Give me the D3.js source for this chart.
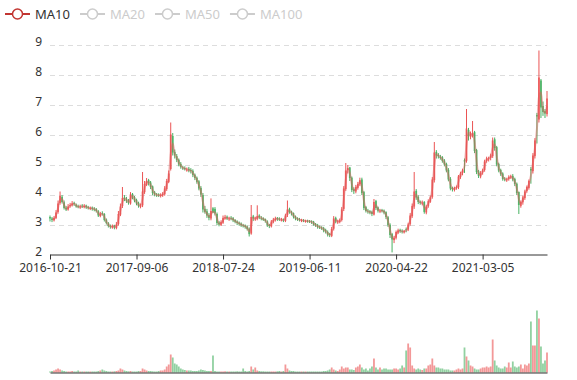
<!DOCTYPE html>
<html><head><meta charset="utf-8">
<script src="https://cdn.jsdelivr.net/npm/d3@7/dist/d3.min.js"></script>
<style>
body{margin:0;background:#fff}
svg{display:block;font-family:"Noto Sans",sans-serif}
</style>
</head><body>
<svg id="c" width="577" height="380"></svg>
<script>
const legendNames = ["MA10", "MA20", "MA50", "MA100"];
const legendActive = [true, false, false, false];
const tickLabels = ["2016-10-21", "2017-09-06", "2018-07-24", "2019-06-11", "2020-04-22", "2021-03-05"];
const tickInterval = 43;
const priceTicks = [2, 3, 4, 5, 6, 7, 8, 9];

const opens = [
3.25,3.20,3.14,3.22,3.42,3.72,3.92,3.74,3.56,3.50,
3.62,3.64,3.72,3.66,3.61,3.57,3.63,3.58,3.63,3.58,
3.53,3.56,3.53,3.51,3.44,3.28,3.38,3.35,3.16,3.04,
2.96,2.90,2.96,2.88,3.02,3.33,3.62,3.90,3.86,3.80,
3.70,4.02,3.91,3.82,3.72,3.60,3.64,4.08,4.32,4.48,
4.40,4.27,4.07,3.99,4.00,3.95,3.97,4.01,4.18,4.42,
4.85,5.95,5.42,5.28,5.16,5.02,4.90,4.88,4.82,4.86,
4.82,4.79,4.66,4.56,4.44,4.22,3.98,3.52,3.44,3.31,
3.20,3.54,3.52,3.35,3.07,2.99,3.06,3.20,3.26,3.18,
3.22,3.21,3.15,3.10,3.06,3.03,2.97,2.97,2.93,2.86,
2.70,3.27,3.18,3.19,3.30,3.22,3.21,3.18,3.10,2.99,
2.94,3.09,3.15,3.22,3.19,3.15,3.17,3.12,3.32,3.52,
3.43,3.38,3.27,3.21,3.18,3.13,3.15,3.10,3.13,3.12,
3.11,3.09,3.02,2.98,2.93,2.90,2.88,2.82,2.75,2.68,
2.62,2.86,3.22,3.08,3.08,3.15,3.52,4.18,4.82,4.90,
4.56,4.18,4.10,4.22,4.34,4.50,4.08,3.58,3.46,3.44,
3.42,3.33,3.78,3.57,3.44,3.48,3.46,3.41,3.24,2.99,
2.68,2.48,2.56,2.73,2.82,2.79,2.74,2.84,2.83,3.02,
3.28,3.60,4.12,3.92,3.76,3.70,3.75,3.40,3.62,3.76,
3.92,4.48,5.42,5.32,5.26,5.24,5.13,5.02,4.82,4.52,
4.22,4.16,4.22,4.24,4.58,4.72,5.14,5.12,6.15,5.92,
5.98,6.08,5.48,4.77,4.60,4.74,4.82,5.12,5.18,5.22,
5.28,5.84,5.58,5.02,4.82,4.70,4.53,4.48,4.52,4.57,
4.62,4.52,4.36,4.08,3.62,3.74,3.88,4.12,4.22,4.85,
4.78,5.28,6.65,6.50,7.80,6.95,6.78,6.68];

const closes = [
3.20,3.15,3.22,3.40,3.70,3.95,3.75,3.55,3.50,3.60,
3.65,3.70,3.68,3.60,3.58,3.60,3.60,3.62,3.57,3.55,
3.55,3.52,3.50,3.45,3.30,3.36,3.36,3.15,3.05,2.95,
2.92,2.95,2.90,3.00,3.35,3.60,3.88,3.85,3.78,3.72,
4.00,3.90,3.80,3.70,3.62,3.62,4.10,4.35,4.45,4.38,
4.25,4.05,4.00,3.98,3.97,3.98,4.02,4.20,4.45,4.70,
6.00,5.40,5.30,5.15,5.00,4.92,4.87,4.85,4.83,4.80,
4.78,4.65,4.55,4.42,4.20,4.00,3.50,3.42,3.30,3.22,
3.45,3.40,3.37,3.05,3.00,3.08,3.22,3.24,3.20,3.20,
3.20,3.14,3.09,3.05,3.02,2.98,2.96,2.92,2.85,2.68,
3.25,3.20,3.20,3.28,3.24,3.20,3.16,3.12,2.98,2.95,
3.10,3.16,3.20,3.18,3.17,3.16,3.14,3.30,3.50,3.42,
3.37,3.26,3.20,3.17,3.15,3.14,3.12,3.12,3.11,3.10,
3.08,3.00,2.97,2.92,2.90,2.87,2.80,2.76,2.66,2.65,
2.85,3.20,3.10,3.10,3.14,3.50,4.20,4.80,4.88,4.55,
4.15,4.12,4.25,4.35,4.48,4.05,3.55,3.45,3.43,3.40,
3.35,3.75,3.55,3.46,3.46,3.45,3.40,3.25,2.98,2.65,
2.50,2.55,2.75,2.80,2.78,2.76,2.78,2.82,3.00,3.30,
3.62,4.10,3.90,3.75,3.72,3.73,3.42,3.60,3.78,3.90,
4.50,5.40,5.30,5.28,5.22,5.12,5.00,4.80,4.50,4.20,
4.18,4.20,4.25,4.60,4.70,4.80,5.10,6.20,5.95,6.00,
6.05,5.45,4.75,4.62,4.72,4.80,5.10,5.20,5.20,5.30,
5.80,5.55,5.00,4.80,4.68,4.52,4.50,4.50,4.58,4.60,
4.50,4.35,4.05,3.65,3.75,3.90,4.10,4.25,4.45,4.80,
5.30,5.80,6.60,7.90,6.90,6.75,6.70,7.20];

const highs = [
3.30,3.25,3.28,3.48,3.80,4.10,3.98,3.80,3.62,3.68,
3.72,3.78,3.76,3.70,3.66,3.66,3.68,3.68,3.66,3.62,
3.60,3.60,3.58,3.55,3.48,3.42,3.44,3.38,3.20,3.08,
3.00,3.00,2.99,3.08,3.45,3.70,4.25,3.98,3.92,3.85,
4.08,4.05,3.95,3.86,3.76,3.70,4.75,4.45,4.55,4.52,
4.45,4.30,4.12,4.05,4.04,4.04,4.08,4.28,4.52,4.80,
6.40,6.05,5.50,5.35,5.20,5.08,4.96,4.94,4.90,4.92,
4.88,4.84,4.70,4.60,4.48,4.28,4.05,3.62,3.52,3.38,
3.87,3.58,3.58,3.40,3.12,3.14,3.30,3.32,3.30,3.26,
3.28,3.25,3.18,3.14,3.10,3.07,3.02,3.00,2.97,2.90,
3.65,3.32,3.26,3.64,3.34,3.28,3.24,3.20,3.14,3.02,
3.15,3.22,3.26,3.25,3.24,3.22,3.20,3.36,3.80,3.56,
3.46,3.40,3.30,3.24,3.22,3.19,3.18,3.16,3.16,3.15,
3.14,3.12,3.05,3.02,2.97,2.94,2.92,2.86,2.80,2.72,
2.92,3.28,3.26,3.16,3.20,3.58,4.28,5.05,4.98,4.92,
4.60,4.24,4.32,4.42,4.56,4.56,4.12,3.62,3.52,3.48,
3.46,3.85,3.82,3.60,3.52,3.52,3.50,3.44,3.28,3.04,
2.72,2.62,2.80,2.86,2.86,2.84,2.82,2.90,3.06,3.38,
3.70,4.75,4.18,3.98,3.80,3.80,3.78,3.66,3.84,3.96,
4.58,5.75,5.48,5.38,5.32,5.28,5.18,5.06,4.88,4.58,
4.26,4.26,4.30,4.65,4.76,4.86,5.20,6.85,6.22,6.10,
6.45,6.12,5.52,4.82,4.78,4.86,5.16,5.26,5.26,5.36,
5.90,5.90,5.62,5.06,4.86,4.74,4.58,4.56,4.64,4.66,
4.68,4.56,4.40,4.10,3.80,3.96,4.16,4.30,4.50,4.92,
5.38,5.88,6.72,8.80,7.85,7.10,6.85,7.45];

const lows = [
3.10,3.08,3.10,3.18,3.36,3.66,3.70,3.50,3.45,3.46,
3.56,3.60,3.62,3.56,3.54,3.52,3.55,3.54,3.52,3.50,
3.48,3.46,3.44,3.40,3.25,3.24,3.30,3.10,3.00,2.90,
2.86,2.86,2.84,2.84,2.96,3.28,3.55,3.78,3.72,3.66,
3.66,3.84,3.74,3.64,3.56,3.54,3.58,4.02,4.28,4.30,
4.18,3.98,3.94,3.92,3.92,3.90,3.92,3.96,4.12,4.38,
4.80,5.30,5.20,5.08,4.94,4.86,4.82,4.80,4.76,4.74,
4.70,4.58,4.48,4.36,4.14,3.92,3.40,3.36,3.22,3.14,
3.14,3.38,3.30,2.98,2.94,2.95,3.02,3.16,3.15,3.12,
3.14,3.08,3.04,2.98,2.96,2.92,2.90,2.86,2.80,2.60,
2.66,3.12,3.12,3.14,3.18,3.14,3.12,3.06,2.92,2.88,
2.90,3.04,3.10,3.12,3.12,3.10,3.08,3.08,3.25,3.36,
3.30,3.20,3.14,3.12,3.10,3.08,3.08,3.06,3.06,3.05,
3.02,2.96,2.92,2.86,2.85,2.82,2.74,2.70,2.60,2.58,
2.58,2.80,3.04,3.02,3.04,3.10,3.45,4.12,4.70,4.45,
4.08,4.02,4.04,4.16,4.28,3.98,3.48,3.40,3.36,3.34,
3.28,3.30,3.48,3.40,3.38,3.40,3.34,3.18,2.92,2.55,
2.07,2.38,2.50,2.68,2.72,2.70,2.70,2.74,2.78,2.96,
3.22,3.52,3.82,3.68,3.66,3.64,3.36,3.34,3.56,3.72,
3.86,4.40,5.20,5.20,5.16,5.06,4.94,4.74,4.44,4.14,
4.10,4.10,4.16,4.18,4.52,4.64,4.72,5.06,5.80,5.84,
5.90,5.38,4.68,4.55,4.54,4.66,4.76,5.06,5.10,5.14,
5.22,5.46,4.94,4.74,4.62,4.46,4.44,4.42,4.46,4.52,
4.44,4.28,3.98,3.35,3.56,3.66,3.82,4.06,4.16,4.36,
4.70,5.20,5.70,6.40,6.55,6.62,6.55,6.60];

const volumes = [
1,1.5,2,3,4,3,2,1.5,1,1,
1,1.5,1,1,2,1,1,1,1,1,
1,1,1,1,1.5,2,3,2,1.5,1,
1,1,1.2,1.5,2,4,3,2,1.5,1.2,
1.5,1,1,1,1.5,1.5,4,3,2,1.5,
1.5,1.2,1,1,1.5,2,2,3,6,8,
18,15,9,8,6,4,3,2.5,2,2,
2,1.5,1.5,1.5,2,3,2.5,2,1.5,1.5,
1.5,17,1.5,1,1,1,1,1.2,1,1,
1,1,1,1.2,1,1,4,1.5,1,1.5,
6,3,5,2,1.5,1.2,1.2,1,1,1,
1,1,1,1.2,1.5,1,1.5,8,4,2,
1.5,1.5,1,1,1,1,1,1,1,1,
1,1,1,1,1,1,1.5,1.5,2,3,
5,3,2,1.5,3,6,4,5,5,3,
3,2.5,5,6,8,5,3,4,2,4,
6,14,5,3,5,3,4,4,3,3,
3,4,4,3,4,7,5,22,29,25,
7,4,3,4,3,2.5,4,4,7,8,
14,7,5,5,4,4,3,3,3,2,
2,2,3,4,3,4,25,16,12,7,
6,4,3,3,4,5,5,6,5,6,
33,12,7,5,4,4,6,5,10,5,
11,6,5,6,8,4,8,7,9,51,
27,27,62,54,26,9,12,20];

const n = closes.length;
const upColor = "#eb5454", downColor = "#47b262";
const svg = d3.select("#c");

const x = d3.scalePoint().domain(d3.range(n)).range([50, 547]);
const y = d3.scaleLinear().domain([2, 9]).range([254.5, 44.5]);
const yv = d3.scaleLinear().domain([0, 62]).range([372.5, 310.5]);

// grid lines
svg.append("g").selectAll("line").data(priceTicks.filter(v => v > 2)).join("line")
  .attr("x1", 50).attr("x2", 547)
  .attr("y1", d => Math.round(y(d)) + 0.5).attr("y2", d => Math.round(y(d)) + 0.5)
  .attr("stroke", "#dddddd").attr("stroke-dasharray", "5,4");

// y axis labels
const ya = svg.append("g").attr("transform", "translate(50,-3)")
  .call(d3.axisLeft(y).tickValues(priceTicks).tickSize(0).tickPadding(8).tickFormat(d3.format("d")));
ya.select(".domain").remove();
ya.selectAll("text").attr("font-size", 12).attr("fill", "#333").attr("font-family", "Noto Sans, sans-serif");

// candles
const candles = svg.append("g");
const bw = 1.8;
d3.range(n).forEach(i => {
  const col = closes[i] >= opens[i] ? upColor : downColor;
  const cx = x(i);
  candles.append("line").attr("x1", cx).attr("x2", cx)
    .attr("y1", y(highs[i])).attr("y2", y(lows[i]))
    .attr("stroke", col).attr("stroke-width", 1);
  const y0 = y(Math.max(opens[i], closes[i])), y1 = y(Math.min(opens[i], closes[i]));
  candles.append("rect").attr("x", cx - bw / 2).attr("width", bw)
    .attr("y", y0).attr("height", Math.max(0.8, y1 - y0))
    .attr("fill", col).attr("fill-opacity", 0.85);
});

// MA10 (derived from closes)
const ma = d3.range(1, n).map(i => [i, (closes[i] + closes[i - 1]) / 2]);
svg.append("path").datum(ma)
  .attr("d", d3.line().x(d => x(d[0])).y(d => y(d[1])).curve(d3.curveMonotoneX))
  .attr("fill", "none").attr("stroke", "#e05a5a").attr("stroke-width", 2).attr("stroke-opacity", 0.45);

// x axis
const tickIdx = tickLabels.map((_, k) => k * tickInterval);
const xa = svg.append("g").attr("transform", "translate(0,254.5)")
  .call(d3.axisBottom(x).tickValues(tickIdx).tickSize(5).tickSizeOuter(0).tickPadding(4)
    .tickFormat(d => tickLabels[tickIdx.indexOf(d)]));
xa.select(".domain").attr("stroke", "#333");
xa.selectAll(".tick line").attr("stroke", "#333");
xa.selectAll("text").attr("font-size", 12).attr("fill", "#333").attr("font-family", "Noto Sans, sans-serif");

// volume bars
svg.append("g").selectAll("rect").data(d3.range(n)).join("rect")
  .attr("x", i => x(i) - bw / 2).attr("width", bw)
  .attr("y", i => yv(volumes[i])).attr("height", i => yv(0) - yv(volumes[i]))
  .attr("fill", i => closes[i] >= opens[i] ? upColor : downColor).attr("fill-opacity", 0.6);

const va = svg.append("g").attr("transform", "translate(0,372.5)")
  .call(d3.axisBottom(x).tickValues([]).tickSizeOuter(0));
va.select(".domain").attr("stroke", "#333");

// legend
const lg = svg.append("g").attr("transform", "translate(0,14)");
let lx = 5;
legendNames.forEach((name, k) => {
  const c = legendActive[k] ? "#c23531" : "#cccccc";
  const g = lg.append("g").attr("transform", `translate(${lx},0)`);
  g.append("line").attr("x1", 0).attr("x2", 25).attr("y1", 0).attr("y2", 0).attr("stroke", c).attr("stroke-width", 2);
  g.append("circle").attr("cx", 12.5).attr("cy", 0).attr("r", 5).attr("fill", "#fff").attr("stroke", c).attr("stroke-width", 1.5);
  const t = g.append("text").attr("x", 30).attr("y", 0).attr("dy", "0.35em")
    .attr("font-size", 13).attr("fill", legendActive[k] ? "#333" : "#cccccc").text(name);
  lx += 30 + t.node().getComputedTextLength() + 10;
});
</script>
</body></html>
